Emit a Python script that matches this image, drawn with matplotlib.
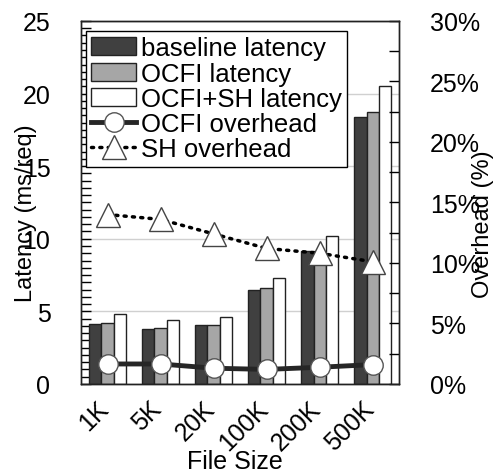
import numpy as np
import matplotlib.pyplot as plt
import matplotlib.transforms as mtransforms
from matplotlib.ticker import MultipleLocator, FuncFormatter

plt.rcParams['font.family'] = ['Liberation Sans', 'DejaVu Sans']

# data
sizes = ["1K", "5K", "20K", "100K", "200K", "500K"]
baseline = [4.13, 3.79, 4.06, 6.47, 9.15, 18.4]
ocfi = [4.2, 3.86, 4.06, 6.59, 9.1, 18.7]
ocfi_sh = [4.8, 4.38, 4.59, 7.3, 10.2, 20.5]
ocfi_ovh = [1.65, 1.65, 1.3, 1.2, 1.38, 1.6]
sh_ovh = [14.0, 13.6, 12.4, 11.2, 10.8, 10.1]

x = np.arange(len(sizes))
w = 0.23

fig = plt.figure(figsize=(4.94, 4.77), dpi=100)
ax = fig.add_axes([0.164, 0.193, 0.644, 0.761])

ax.grid(axis='y', color='#d0d0d0', linewidth=1)
ax.set_axisbelow(True)
ec = '#222222'
b1 = ax.bar(x - w, baseline, w, color='#404040', edgecolor=ec, linewidth=1, label='baseline latency')
b2 = ax.bar(x, ocfi, w, color='#a6a6a6', edgecolor=ec, linewidth=1, label='OCFI latency')
b3 = ax.bar(x + w, ocfi_sh, w, color='white', edgecolor=ec, linewidth=1, label='OCFI+SH latency')

ax.set_xlim(-0.5, len(sizes) - 0.5)
ax.set_ylim(0, 25)
ax.yaxis.set_major_locator(MultipleLocator(5))
ax.yaxis.set_minor_locator(MultipleLocator(0.5))
ax.tick_params(axis='y', which='both', direction='in', length=7, width=1, labelsize=18, pad=22)
ax.tick_params(axis='x', length=0, labelsize=18, pad=9)
ax.set_xticks(x)
ax.set_xticklabels(sizes, rotation=45, ha='right', va='top')
shift = mtransforms.ScaledTranslation(6 / 100, 0, fig.dpi_scale_trans)
for lab in ax.get_xticklabels():
    lab.set_transform(lab.get_transform() + shift)
ax.set_ylabel('Latency (ms/req)', fontsize=17)
ax.yaxis.set_label_coords(-0.139, 0.472)
ax.set_xlabel('File Size', fontsize=18)
ax.xaxis.set_label_coords(0.484, -0.18)

ax2 = ax.twinx()
ax2.set_ylim(0, 30)
ax2.yaxis.set_major_locator(MultipleLocator(5))
ax2.yaxis.set_minor_locator(MultipleLocator(2.5))
ax2.yaxis.set_major_formatter(FuncFormatter(lambda v, p: '%d%%' % v))
ax2.tick_params(axis='y', which='both', direction='in', length=7, width=1, labelsize=18, pad=22)
ax2.set_ylabel('Overhead (%)', fontsize=17, rotation=90)
ax2.yaxis.set_label_coords(1.229, 0.4435)

l1, = ax2.plot(x, ocfi_ovh, color='#262626', linewidth=3.5, marker='o', markersize=14,
               markerfacecolor='white', markeredgecolor='#555555', markeredgewidth=1,
               label='OCFI overhead')
l2, = ax2.plot(x, sh_ovh, color='black', linewidth=2.5, linestyle=(0, (0.6, 1.8)),
               dash_capstyle='round', marker='^', markersize=17,
               markerfacecolor='white', markeredgecolor='#444444', markeredgewidth=1,
               label='SH overhead')

for a in (ax, ax2):
    for s in a.spines.values():
        s.set_color('#222222')
        s.set_linewidth(1)

leg = ax2.legend(handles=[b1, b2, b3, l1, l2], loc='upper left',
                 bbox_to_anchor=(0.016, 0.972), fontsize=18.5, frameon=True,
                 fancybox=False, framealpha=1, edgecolor='black',
                 handlelength=1.75, handletextpad=0.2, labelspacing=0.05,
                 borderpad=0.2, borderaxespad=0)
leg.get_frame().set_linewidth(1)

plt.savefig('out.png', dpi=100)
